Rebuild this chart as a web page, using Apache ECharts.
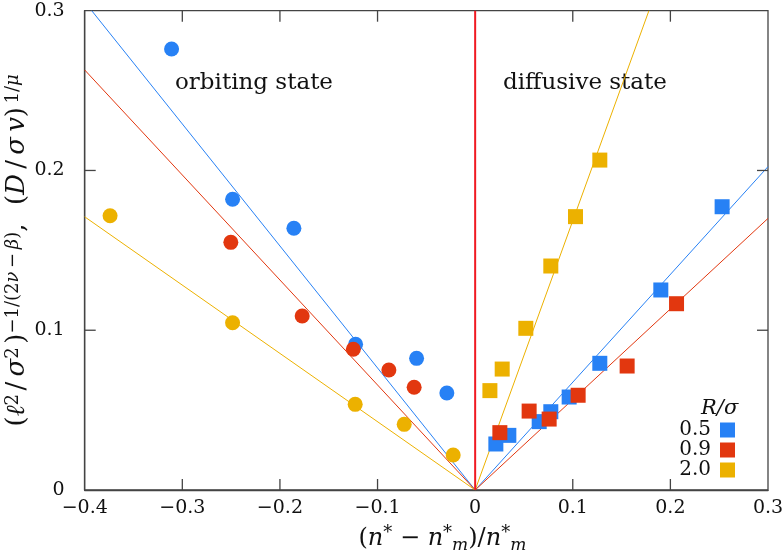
<!DOCTYPE html>
<html>
<head>
<meta charset="utf-8">
<script src="https://cdn.jsdelivr.net/npm/echarts@6/dist/echarts.min.js"></script>
<style>html,body{margin:0;padding:0;background:#fff}#c{width:784px;height:554px}</style>
</head>
<body>
<div id="c"></div>
<script>
// ---- data ----
const legendNames = ['0.5', '0.9', '2.0'];
const blueCircles = [[-0.311,0.276],[-0.2485,0.182],[-0.1857,0.1638],[-0.1225,0.0912],[-0.060,0.0824],[-0.029,0.0607]];
const redCircles = [[-0.2503,0.155],[-0.1772,0.1089],[-0.1248,0.0881],[-0.0884,0.0751],[-0.0625,0.0643]];
const yellowCircles = [[-0.374,0.1717],[-0.2485,0.1047],[-0.1229,0.0536],[-0.0727,0.0411],[-0.0225,0.0219]];
const blueSquares = [[0.0212,0.0288],[0.0345,0.0342],[0.0656,0.0428],[0.0775,0.049],[0.0963,0.0582],[0.1277,0.0793],[0.1902,0.1252],[0.253,0.1773]];
const redSquares = [[0.0253,0.0359],[0.0553,0.0494],[0.0758,0.0444],[0.1055,0.0593],[0.1557,0.0776],[0.2063,0.1166]];
const yellowSquares = [[0.0151,0.0622],[0.0277,0.0757],[0.0519,0.1012],[0.0775,0.1402],[0.1028,0.1711],[0.1277,0.2065]];
const blueFit = [[-0.3928,0.3],[0,0],[0.3,0.2024]];
const redFit = [[-0.4,0.2629],[0,0],[0.3,0.170]];
const yellowFit = [[-0.4,0.171],[0,0],[0.178,0.3]];
const transitionLine = [[0,0],[0,0.3]];
const xRange = [-0.4, 0.3];
const yRange = [0, 0.3];
const xTicks = [-0.3, -0.2, -0.1, 0.1, 0.2];
const yTicks = [0.1, 0.2];

const C = {blue:'#2781f5', red:'#e2370f', yellow:'#ecb100', vline:'#f01a22', axis:'#444444'};
const FONT = 'DejaVu Serif';
const fmt = v => (Math.abs(v) < 1e-9 ? '0' : (v < 0 ? '\u2212' : '') + Math.abs(v).toFixed(1));
const TICK_LEN = 11;

const chart = echarts.init(document.getElementById('c'), null, {renderer:'canvas'});

function fitSeries(data, color) {
  return {type:'line', data, symbol:'none', silent:true, lineStyle:{color, width:1}, z:2, animation:false};
}
function scatter(name, data, symbol, color) {
  return {type:'scatter', name, data, symbol, symbolSize:15, itemStyle:{color, opacity:1}, z:5, animation:false};
}
// mirrored inward ticks on all four sides, placed through the axis scales
function tickSeries(values, isX) {
  return {
    type:'custom', silent:true, clip:false, z:4, animation:false,
    data: values.map(v => isX ? [v, yRange[0]] : [xRange[0], v]),
    renderItem: (params, api) => {
      const style = {stroke:C.axis, lineWidth:1.3, fill:null};
      if (isX) {
        const v = api.value(0);
        const b = api.coord([v, yRange[0]]), t = api.coord([v, yRange[1]]);
        return {type:'group', children:[
          {type:'line', shape:{x1:b[0], y1:b[1], x2:b[0], y2:b[1]-TICK_LEN}, style},
          {type:'line', shape:{x1:t[0], y1:t[1], x2:t[0], y2:t[1]+TICK_LEN}, style}
        ]};
      }
      const v = api.value(1);
      const l = api.coord([xRange[0], v]), r = api.coord([xRange[1], v]);
      return {type:'group', children:[
        {type:'line', shape:{x1:l[0], y1:l[1], x2:l[0]+TICK_LEN, y2:l[1]}, style},
        {type:'line', shape:{x1:r[0], y1:r[1], x2:r[0]-TICK_LEN, y2:r[1]}, style}
      ]};
    }
  };
}

const TS = '\u2009';
const supStyle = {fontFamily:FONT, fontSize:18, lineHeight:18, verticalAlign:'top', color:'#111'};
const supI = Object.assign({}, supStyle, {fontStyle:'italic'});
const subI = {fontFamily:FONT, fontSize:17, lineHeight:17, verticalAlign:'bottom', fontStyle:'italic', color:'#111'};
const baseR = {fontFamily:FONT, fontSize:24, lineHeight:30, color:'#111'};
const baseI = Object.assign({}, baseR, {fontStyle:'italic'});
const baseRy = Object.assign({}, baseR, {fontSize:26, lineHeight:25});
const baseIy = Object.assign({}, baseRy, {fontStyle:'italic'});
const xName = '{t|(}{i|n}{sp|*}{t| \u2212 }{i|n}{sp|*}{sb|m}{t|)/}{i|n}{sp|*}{sb|m}';
const yName = '{t|(}{i|\u2113}{sp|2' + TS + '}{t|/' + TS + '}{i|\u03c3}{sp|2' + TS + '}{t|)}{sp|\u22121/(2}{spi|\u03bd}{sp|' + TS + '\u2212' + TS + '}{spi|\u03b2}{sp|)}{t|,' + TS + TS + ' (}{i|D}{t|' + TS + '/' + TS + '}{i|\u03c3' + TS + 'v}{t|)}{sp|' + TS + '1/}{spi|\u03bc}';

chart.setOption({
  animation:false,
  backgroundColor:'#fff',
  grid:{left:84.7, right:16, top:10.7, bottom:64, containLabel:false, outerBoundsMode:'none',
        show:true, borderColor:C.axis, borderWidth:1.3, backgroundColor:'rgba(255,255,255,0)'},
  legend:{
    orient:'vertical', right:44, top:415, align:'right',
    itemWidth:15, itemHeight:15, itemGap:0,
    data:legendNames.map(n => ({name:n, icon:'rect'})),
    textStyle:{fontFamily:FONT, fontSize:20, lineHeight:20, color:'#111', padding:[0,4,0,0]},
    selectedMode:false
  },
  graphic:[
    {type:'text', left:175, top:72, style:{text:'orbiting state', font:'23px "DejaVu Serif"', fill:'#111'}},
    {type:'text', left:503, top:72, style:{text:'diffusive state', font:'23px "DejaVu Serif"', fill:'#111'}},
    {type:'text', left:701, top:398, style:{text:'R/\u03c3', font:'italic 21px "DejaVu Serif"', fill:'#111'}}
  ],
  xAxis:{
    type:'value', min:xRange[0], max:xRange[1], interval:0.1, position:'bottom',
    axisLine:{show:true, onZero:false, lineStyle:{color:C.axis, width:1.3}}, axisTick:{show:false}, splitLine:{show:false},
    axisLabel:{formatter:fmt, fontFamily:FONT, fontSize:19, color:'#111', margin:9},
    name:xName, nameLocation:'middle', nameGap:34,
    nameTextStyle:{padding:[0,0,0,32], rich:{t:baseR, i:baseI, sp:supStyle, sb:subI}}
  },
  yAxis:{
    type:'value', min:yRange[0], max:yRange[1], interval:0.1, position:'left',
    axisLine:{show:true, onZero:false, lineStyle:{color:C.axis, width:1.3}}, axisTick:{show:false}, splitLine:{show:false},
    axisLabel:{formatter:fmt, fontFamily:FONT, fontSize:19, color:'#111', margin:20},
    name:yName, nameLocation:'middle', nameRotate:90, nameGap:55, nameMoveOverlap:false,
    nameTextStyle:{rich:{t:baseRy, i:baseIy, sp:supStyle, spi:supI}}
  },
  series:[
    tickSeries(xTicks, true),
    tickSeries(yTicks, false),
    fitSeries(blueFit, C.blue),
    fitSeries(redFit, C.red),
    fitSeries(yellowFit, C.yellow),
    {type:'line', data:transitionLine, symbol:'none', silent:true, lineStyle:{color:C.vline, width:2}, z:3, animation:false},
    scatter(legendNames[0], blueSquares, 'rect', C.blue),
    scatter(legendNames[0], blueCircles, 'circle', C.blue),
    scatter(legendNames[1], redSquares, 'rect', C.red),
    scatter(legendNames[1], redCircles, 'circle', C.red),
    scatter(legendNames[2], yellowSquares, 'rect', C.yellow),
    scatter(legendNames[2], yellowCircles, 'circle', C.yellow)
  ]
});
</script>
</body>
</html>
